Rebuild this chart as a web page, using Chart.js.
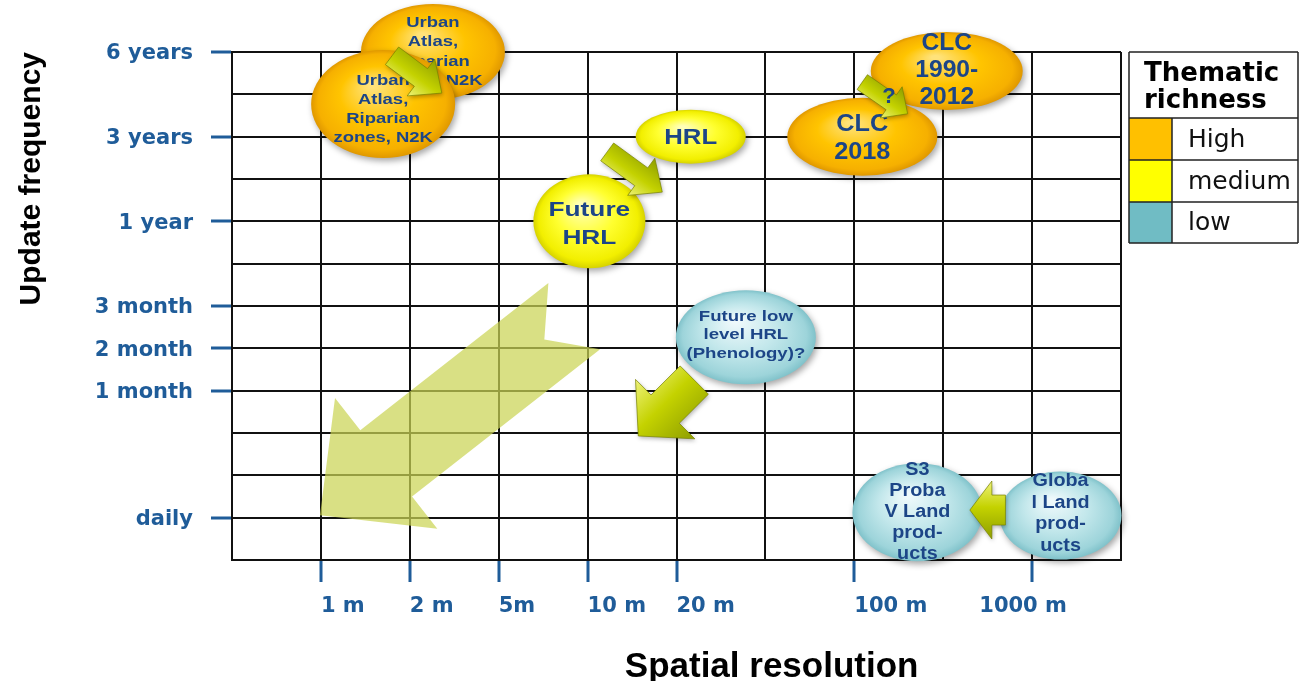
<!DOCTYPE html>
<html>
<head>
<meta charset="utf-8">
<script src="https://cdn.jsdelivr.net/npm/chart.js@4/dist/chart.umd.min.js"></script>
<style>
  html, body { margin: 0; padding: 0; background: #fff; }
  #wrap { position: relative; width: 1301px; height: 681px; }
</style>
</head>
<body>
<div id="wrap"><canvas id="chart" width="1301" height="681"></canvas></div>
<script>
// axis categories (one grid step each)
const xTickLabels = ['', '1 m', '2 m', '5m', '10 m', '20 m', '', '100 m', '', '1000 m', ''];
const yTickLabels = ['', 'daily', '', '', '1 month', '2 month', '3 month', '', '1 year', '', '3 years', '', '6 years'];

// thematic richness classes
const richnessLevels = ['High', 'medium', 'low'];

// products, in axis units (x = resolution step, y = frequency step)
const productLines = [
    ['Urban', 'Atlas,', 'Riparian', 'zones, N2K'],
    ['Urban', 'Atlas,', 'Riparian', 'zones, N2K'],
    ['HRL'],
    ['Future', 'HRL'],
    ['CLC', '1990-', '2012'],
    ['CLC', '2018'],
    ['Future low', 'level HRL', '(Phenology)?'],
    ['S3', 'Proba', 'V Land', 'prod-', 'ucts'],
    ['Globa', 'l Land', 'prod-', 'ucts']
];
const productRes = [2.26, 1.70, 5.16, 4.02, 8.04, 7.09, 5.78, 7.71, 9.32];
const productFreq = [12.0, 10.77, 10.0, 8.0, 11.55, 10.0, 5.26, 1.13, 1.05];
const productRichness = ['High', 'High', 'medium', 'medium', 'High', 'High', 'low', 'low', 'low'];

// transition arrows, axis units
const arrowFromX = [1.80, 4.22, 7.09, 5.20, 8.70];
const arrowFromY = [11.91, 9.64, 11.29, 4.25, 1.18];
const arrowToX = [2.36, 4.84, 7.60, 4.57, 8.30];
const arrowToY = [11.03, 8.69, 10.54, 2.93, 1.18];
const arrowText = ['', '', '?', '', ''];

// general trend arrow
const trendFrom = [3.85, 5.76];
const trendTo = [0.99, 1.06];

// ---- styles ----
const tickBlue = '#1f5c99';
const textBlue = '#1c4587';
const centeredXLabels = ['1000 m'];
const swatch = { High: '#ffc000', medium: '#ffff00', low: '#70bcc4' };
const bubbleStops = {
    High: [[0, '#ffe27a'], [0.5, '#ffc400'], [0.88, '#f6b000'], [1, '#e09800']],
    medium: [[0, '#ffffb8'], [0.5, '#ffff30'], [0.88, '#f2ef00'], [1, '#d6d200']],
    low: [[0, '#eef9fb'], [0.5, '#c2e7eb'], [0.88, '#9dd4da'], [1, '#80c2ca']]
};
const bubbleSize = [[72, 48], [72, 54], [55, 27], [56, 47], [76, 39], [75, 39], [70, 47], [65, 49], [61, 44]];
const bubbleText = [
    {size: 15, lh: 19.5, sx: 1.23, dy: 0},
    {size: 15, lh: 19, sx: 1.23, dy: 5},
    {size: 22, lh: 26, sx: 1.17, dy: 1},
    {size: 21, lh: 28, sx: 1.25, dy: 3},
    {size: 23, lh: 27, sx: 1.07, dy: 0},
    {size: 23, lh: 28, sx: 1.1, dy: 2},
    {size: 15, lh: 18.5, sx: 1.24, dy: -2},
    {size: 18, lh: 21, sx: 1.1, dy: 0},
    {size: 18, lh: 21.5, sx: 1.1, dy: -2}
];
// shaft half width, head half width, head length
const arrowSize = [[11, 23, 26], [11, 23, 26], [9, 19, 20], [20, 42, 38], [15, 29, 22]];

function arrowPath(ctx, tx, ty, px, py, shaft, head, headLen, notch) {
    const dx = px - tx, dy = py - ty, len = Math.hypot(dx, dy);
    const ux = dx / len, uy = dy / len, vx = -uy, vy = ux;
    const bx = px - ux * headLen, by = py - uy * headLen;
    ctx.beginPath();
    ctx.moveTo(tx + vx * shaft, ty + vy * shaft);
    ctx.lineTo(bx + vx * shaft, by + vy * shaft);
    ctx.lineTo(bx + vx * head, by + vy * head);
    ctx.lineTo(px, py);
    ctx.lineTo(bx - vx * head, by - vy * head);
    ctx.lineTo(bx - vx * shaft, by - vy * shaft);
    ctx.lineTo(tx - vx * shaft, ty - vy * shaft);
    ctx.lineTo(tx + ux * notch, ty + uy * notch);
    ctx.closePath();
    return {vx, vy};
}

function drawBubble(ctx, cx, cy, rx, ry, stops) {
    ctx.save();
    ctx.shadowColor = 'rgba(0,0,0,0.35)';
    ctx.shadowBlur = 6;
    ctx.shadowOffsetX = 2;
    ctx.shadowOffsetY = 3;
    ctx.translate(cx, cy);
    ctx.scale(1, ry / rx);
    const g = ctx.createRadialGradient(-rx * 0.15, -rx * 0.35, rx * 0.05, 0, 0, rx);
    stops.forEach(([o, c]) => g.addColorStop(o, c));
    ctx.beginPath();
    ctx.arc(0, 0, rx, 0, Math.PI * 2);
    ctx.fillStyle = g;
    ctx.fill();
    ctx.restore();
}

function stretchedText(ctx, text, x, y, sx) {
    ctx.save();
    ctx.translate(x, y);
    ctx.scale(sx, 1);
    ctx.fillText(text, 0, 0);
    ctx.restore();
}

const decorPlugin = {
    id: 'decor',
    afterDatasetsDraw(chart) {
        const {ctx, chartArea} = chart;
        const x = chart.scales.x, y = chart.scales.y;

        // big pale trend arrow, grid shows through
        ctx.save();
        arrowPath(ctx, x.getPixelForValue(trendFrom[0]), y.getPixelForValue(trendFrom[1]),
            x.getPixelForValue(trendTo[0]), y.getPixelForValue(trendTo[1]), 42, 83, 84, 38);
        ctx.fillStyle = 'rgba(202,212,84,0.72)';
        ctx.fill();
        ctx.restore();

        // product bubbles
        productLines.forEach((lines, i) => {
            const cx = x.getPixelForValue(productRes[i]);
            const cy = y.getPixelForValue(productFreq[i]);
            const [rx, ry] = bubbleSize[i];
            drawBubble(ctx, cx, cy, rx, ry, bubbleStops[productRichness[i]]);
            const t = bubbleText[i];
            ctx.save();
            ctx.font = `bold ${t.size}px "Liberation Sans", Arial, sans-serif`;
            ctx.fillStyle = textBlue;
            ctx.textAlign = 'center';
            ctx.textBaseline = 'middle';
            const top = cy + t.dy - (lines.length - 1) * t.lh / 2;
            lines.forEach((line, k) => stretchedText(ctx, line, cx, top + k * t.lh, t.sx));
            ctx.restore();
        });

        // transition arrows
        arrowFromX.forEach((fx, i) => {
            const tx = x.getPixelForValue(fx), ty = y.getPixelForValue(arrowFromY[i]);
            const px = x.getPixelForValue(arrowToX[i]), py = y.getPixelForValue(arrowToY[i]);
            const [sh, hd, hl] = arrowSize[i];
            ctx.save();
            ctx.shadowColor = 'rgba(0,0,0,0.3)';
            ctx.shadowBlur = 4;
            ctx.shadowOffsetX = 1;
            ctx.shadowOffsetY = 2;
            const {vx, vy} = arrowPath(ctx, tx, ty, px, py, sh, hd, hl, 0);
            const mx = (tx + px) / 2, my = (ty + py) / 2;
            const g = ctx.createLinearGradient(mx + vx * hd, my + vy * hd, mx - vx * hd, my - vy * hd);
            g.addColorStop(0, '#eef27a');
            g.addColorStop(0.45, '#c4d200');
            g.addColorStop(1, '#8e9e00');
            ctx.fillStyle = g;
            ctx.fill();
            ctx.shadowColor = 'transparent';
            ctx.strokeStyle = 'rgba(120,130,0,0.7)';
            ctx.lineWidth = 1;
            ctx.stroke();
            if (arrowText[i]) {
                ctx.font = 'bold 22px "Liberation Sans", Arial, sans-serif';
                ctx.fillStyle = textBlue;
                ctx.textAlign = 'center';
                ctx.textBaseline = 'middle';
                ctx.fillText(arrowText[i], mx + 4, my - 1);
            }
            ctx.restore();
        });

        // x axis title
        ctx.save();
        ctx.font = 'bold 35px "Liberation Sans", Arial, sans-serif';
        ctx.fillStyle = '#000';
        ctx.textAlign = 'center';
        ctx.textBaseline = 'alphabetic';
        ctx.fillText('Spatial resolution', chartArea.left + (chartArea.right - chartArea.left) * 0.607, 677);
        ctx.restore();

        // richness legend table
        const L = chartArea.right + 8, S = L + 43, R = 1298;
        const rows = [chartArea.top, 118, 160, 202, 243];
        ctx.save();
        richnessLevels.forEach((lvl, k) => {
            ctx.fillStyle = swatch[lvl];
            ctx.fillRect(L, rows[k + 1], S - L, rows[k + 2] - rows[k + 1]);
            ctx.font = '25px "DejaVu Sans", sans-serif';
            ctx.fillStyle = '#111';
            ctx.textAlign = 'left';
            ctx.textBaseline = 'middle';
            ctx.fillText(lvl, S + 16, (rows[k + 1] + rows[k + 2]) / 2 + 1);
        });
        ctx.font = 'bold 26px "DejaVu Sans", sans-serif';
        ctx.fillStyle = '#000';
        ctx.textBaseline = 'alphabetic';
        ctx.fillText('Thematic', L + 15, 81);
        ctx.fillText('richness', L + 15, 108);
        ctx.strokeStyle = '#222';
        ctx.lineWidth = 1.5;
        ctx.beginPath();
        rows.forEach(r => { ctx.moveTo(L, r); ctx.lineTo(R, r); });
        ctx.moveTo(L, rows[0]); ctx.lineTo(L, rows[4]);
        ctx.moveTo(S, rows[1]); ctx.lineTo(S, rows[4]);
        ctx.moveTo(R, rows[0]); ctx.lineTo(R, rows[4]);
        ctx.stroke();
        ctx.restore();
    }
};

const tickFont = {family: '"DejaVu Sans", sans-serif', weight: 'bold', size: 21};

new Chart(document.getElementById('chart'), {
    type: 'scatter',
    data: {
        datasets: richnessLevels.map(level => ({
            label: level,
            data: productRes.map((v, i) => ({x: v, y: productFreq[i]}))
                .filter((_, i) => productRichness[i] === level),
            pointRadius: 0,
            pointHoverRadius: 0,
            backgroundColor: swatch[level]
        }))
    },
    options: {
        responsive: false,
        animation: false,
        events: [],
        layout: {padding: {top: 52, right: 180, left: 0, bottom: 0}},
        plugins: {
            legend: {display: false},
            tooltip: {enabled: false}
        },
        scales: {
            x: {
                type: 'linear',
                min: 0,
                max: 10,
                afterFit: s => { s.height = 121; },
                ticks: {
                    stepSize: 1,
                    autoSkip: false,
                    maxRotation: 0,
                    align: 'start',
                    padding: 12,
                    color: tickBlue,
                    font: tickFont,
                    callback: v => centeredXLabels.includes(xTickLabels[v]) ? '' : (xTickLabels[v] || '')
                },
                grid: {
                    color: '#111',
                    lineWidth: 2,
                    tickColor: c => (c.tick && xTickLabels[c.tick.value]) ? tickBlue : 'rgba(0,0,0,0)',
                    tickWidth: 3,
                    tickLength: 22
                },
                border: {color: '#111', width: 2}
            },
            // same axis again, only for labels that sit centred on their tick
            // (mirrored so the labels are not clipped to this zero-height box)
            xc: {
                type: 'linear',
                position: 'bottom',
                weight: -1,
                min: 0,
                max: 10,
                afterFit: s => { s.height = 0; },
                grid: {display: false, drawTicks: false},
                border: {display: false},
                ticks: {
                    stepSize: 1,
                    autoSkip: false,
                    maxRotation: 0,
                    mirror: true,
                    padding: -59,
                    labelOffset: -9,
                    color: tickBlue,
                    font: tickFont,
                    callback: v => centeredXLabels.includes(xTickLabels[v]) ? xTickLabels[v] : ''
                }
            },
            y: {
                type: 'linear',
                min: 0,
                max: 12,
                afterFit: s => { s.width = 232; },
                ticks: {
                    stepSize: 1,
                    autoSkip: false,
                    padding: 18,
                    labelOffset: 2,
                    color: tickBlue,
                    font: tickFont,
                    callback: v => yTickLabels[v] || ''
                },
                grid: {
                    color: '#111',
                    lineWidth: 2,
                    tickColor: c => (c.tick && yTickLabels[c.tick.value]) ? tickBlue : 'rgba(0,0,0,0)',
                    tickWidth: 3,
                    tickLength: 21
                },
                border: {color: '#111', width: 2},
                title: {
                    display: true,
                    text: 'Update frequency',
                    align: 'end',
                    color: '#000',
                    font: {family: '"Liberation Sans", Arial, sans-serif', weight: 'bold', size: 30},
                    padding: {top: 14, bottom: 0}
                }
            }
        }
    },
    plugins: [decorPlugin]
});
</script>
</body>
</html>
